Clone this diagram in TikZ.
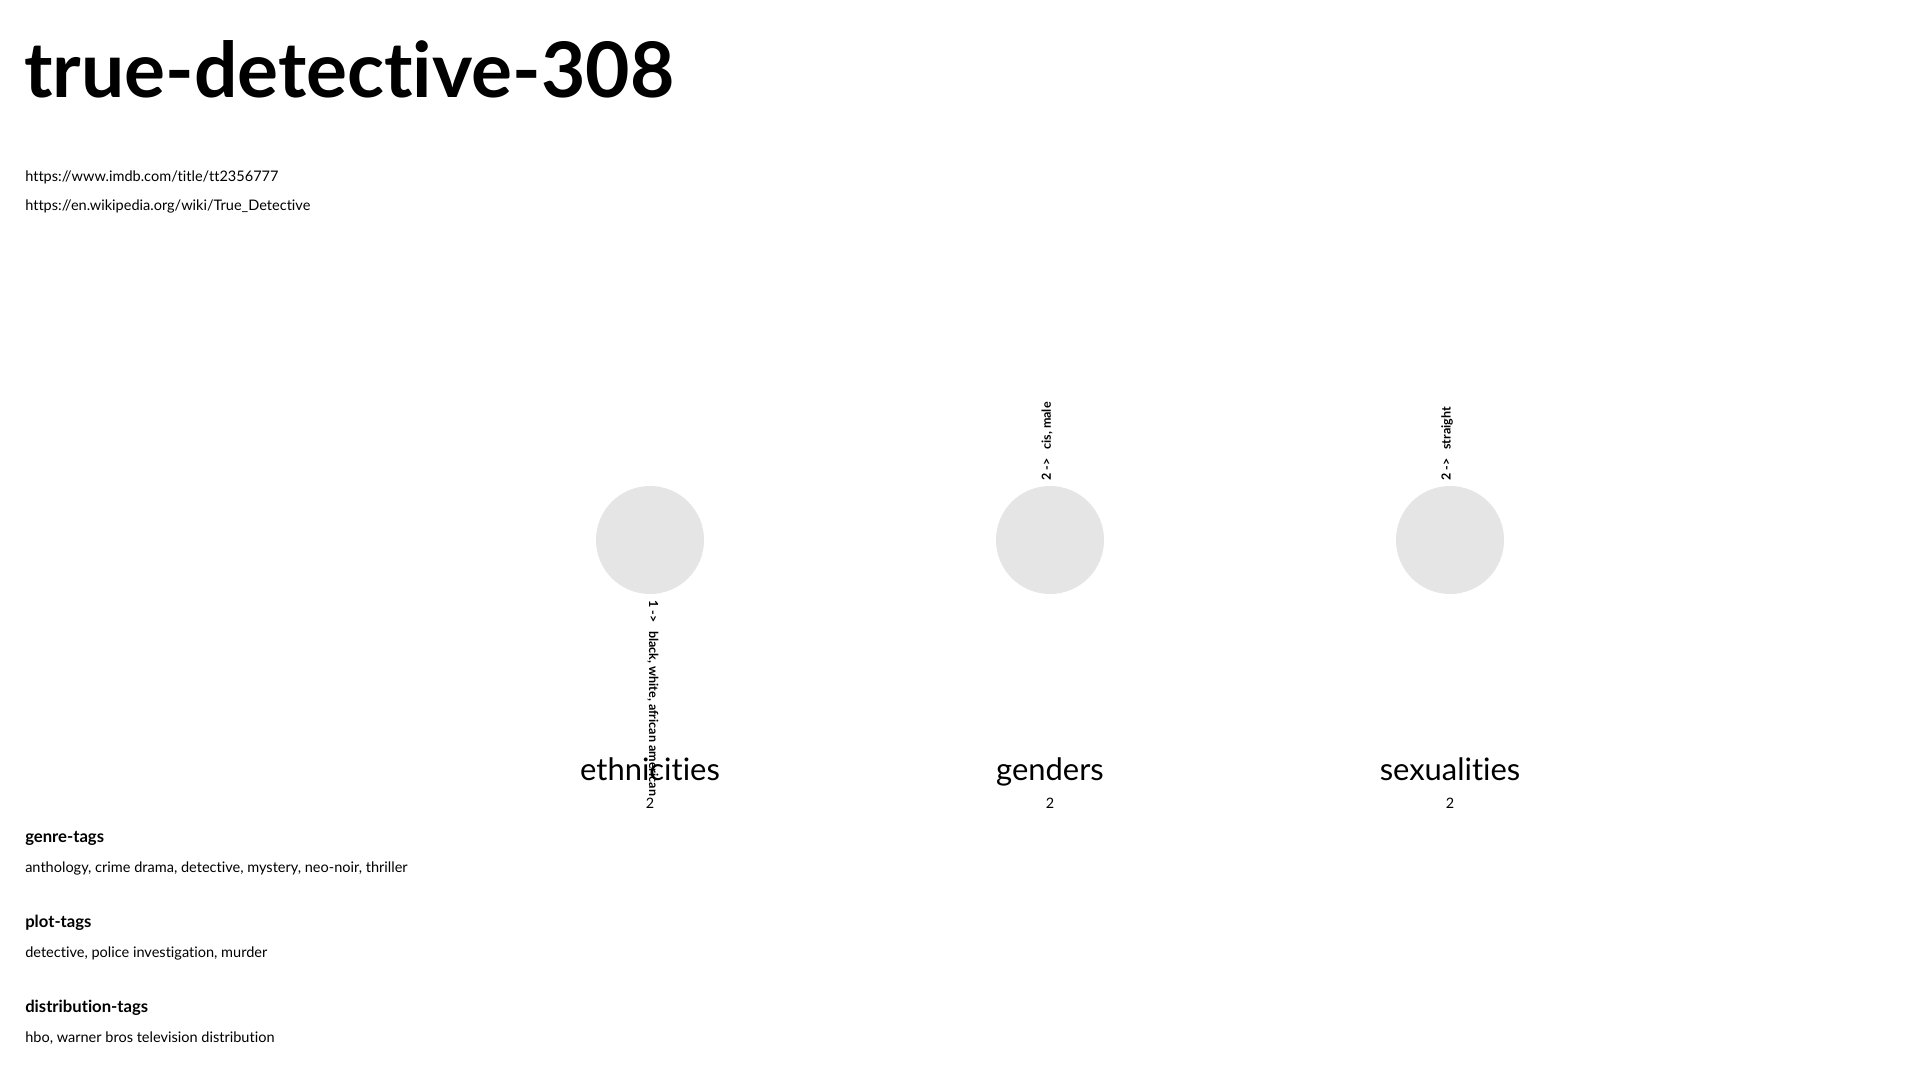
\documentclass[tikz,border=0pt]{standalone}
\usepackage{fontspec}
\setmainfont{Lato}[Ligatures=NoCommon]
\usepackage{tikz}
\definecolor{bubblegray}{RGB}{229,229,229}

\begin{document}
\begin{tikzpicture}[x=0.75pt,y=0.75pt,yscale=-1,xscale=1,
  bubble/.style={circle,fill=bubblegray,inner sep=0pt,minimum size=81pt},
  catname/.style={anchor=base,inner sep=0pt,font=\fontsize{23.2}{26}\selectfont},
  catcount/.style={anchor=base,inner sep=0pt,font=\fontsize{10.8}{12}\selectfont},
  catvalues/.style={anchor=west,inner sep=0pt,font=\bfseries\fontsize{9.4}{11}\selectfont},
  taghead/.style={anchor=base west,inner sep=0pt,font=\bfseries\fontsize{12.5}{15}\selectfont},
  tagline/.style={anchor=base west,inner sep=0pt,font=\fontsize{10.9}{13}\selectfont}]
%set diagram left start at 0, and has height of 1080
\path [fill=white] (0,0) rectangle (1920,1080);

% Text Node
\draw (24,98) node (title) [anchor=base west,inner sep=0pt,font=\bfseries\fontsize{57.5}{60}\selectfont]  {true-detective-308};
% Text Node
\draw (25,182) node (imdb) [tagline]  {https://www.imdb.com/title/tt2356777};
% Text Node
\draw (25,211) node (wiki) [tagline]  {https://en.wikipedia.org/wiki/True\_Detective};

%Shape: Circle
\draw (650,540) node (ethnicitiesdot) [bubble]  {};
%Shape: Circle
\draw (1050,540) node (gendersdot) [bubble]  {};
%Shape: Circle
\draw (1450,540) node (sexualitiesdot) [bubble]  {};

% Text Node
\draw (653,600) node (ethnicitiesval) [catvalues,rotate=-90]  {1 ->\hspace{0.7em}black, white, african american};
% Text Node
\draw (1047,481) node (gendersval) [catvalues,rotate=90]  {2 ->\hspace{0.7em}cis, male};
% Text Node
\draw (1447,481) node (sexualitiesval) [catvalues,rotate=90]  {2 ->\hspace{0.7em}straight};

% Text Node
\draw (650,780) node (ethnicitiesname) [catname]  {ethnicities};
% Text Node
\draw (1050,780) node (gendersname) [catname]  {genders};
% Text Node
\draw (1450,780) node (sexualitiesname) [catname]  {sexualities};
% Text Node
\draw (650,808) node (ethnicitiescount) [catcount]  {2};
% Text Node
\draw (1050,808) node (genderscount) [catcount]  {2};
% Text Node
\draw (1450,808) node (sexualitiescount) [catcount]  {2};

% Text Node
\draw (25,842) node (genrehead) [taghead]  {genre-tags};
% Text Node
\draw (25,872) node (genretags) [tagline]  {anthology, crime drama, detective, mystery, neo-noir, thriller};
% Text Node
\draw (25,927) node (plothead) [taghead]  {plot-tags};
% Text Node
\draw (25,957) node (plottags) [tagline]  {detective, police investigation, murder};
% Text Node
\draw (25,1012) node (distributionhead) [taghead]  {distribution-tags};
% Text Node
\draw (25,1042) node (distributiontags) [tagline]  {hbo, warner bros television distribution};

\end{tikzpicture}
\end{document}
